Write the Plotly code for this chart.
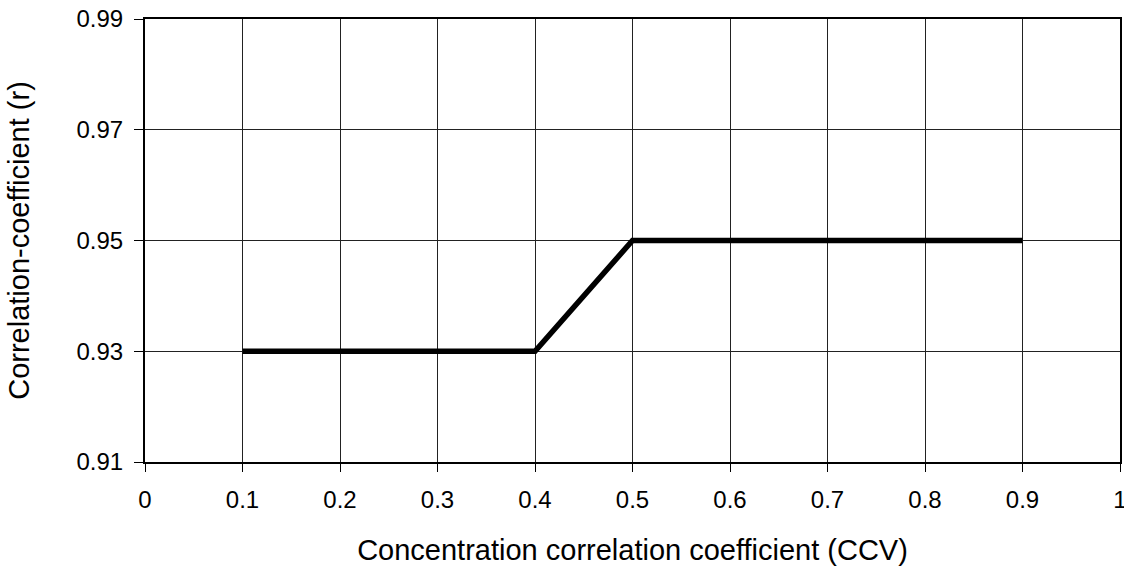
import plotly.graph_objects as go

x_vals = [0.1, 0.2, 0.3, 0.4, 0.5, 0.6, 0.7, 0.8, 0.9]
y_vals = [0.93, 0.93, 0.93, 0.93, 0.95, 0.95, 0.95, 0.95, 0.95]
x_ticks = [0, 0.1, 0.2, 0.3, 0.4, 0.5, 0.6, 0.7, 0.8, 0.9, 1]
x_tick_text = ["0", "0.1", "0.2", "0.3", "0.4", "0.5", "0.6", "0.7", "0.8", "0.9", "1"]
y_ticks = [0.91, 0.93, 0.95, 0.97, 0.99]
y_tick_text = ["0.91", "0.93", "0.95", "0.97", "0.99"]

fig = go.Figure()
fig.add_trace(go.Scatter(x=x_vals, y=y_vals, mode="lines",
                         line=dict(color="black", width=5.5), showlegend=False))

font = dict(family="Liberation Sans, Arial, sans-serif", color="black")
fig.update_layout(
    width=1124, height=566,
    margin=dict(l=145, r=4, t=19, b=104),
    plot_bgcolor="white", paper_bgcolor="white",
    font=font,
    xaxis=dict(range=[0, 1], tickvals=x_ticks, ticktext=x_tick_text,
               showgrid=True, gridcolor="#222", gridwidth=1,
               showline=True, linecolor="black", linewidth=2, mirror=True,
               ticks="outside", ticklen=8, tickcolor="black",
               tickfont=dict(size=24), zeroline=False, ticklabelstandoff=7,
               ticklabeloverflow="allow", automargin=False,
               title=dict(text="Concentration correlation coefficient (CCV)",
                          font=dict(size=29), standoff=30)),
    yaxis=dict(range=[0.91, 0.99], tickvals=y_ticks, ticktext=y_tick_text,
               showgrid=True, gridcolor="#222", gridwidth=1,
               showline=True, linecolor="black", linewidth=2, mirror=True,
               ticks="outside", ticklen=9, tickcolor="black",
               tickfont=dict(size=24), zeroline=False, ticklabelstandoff=6,
               automargin=False,
               title=dict(text="Correlation-coefficient (r)",
                          font=dict(size=29), standoff=38)),
)
fig.write_html("out.html", config={"responsive": False, "displayModeBar": False},
               post_script="document.body.style.margin='0px';document.body.style.overflow='hidden';")
